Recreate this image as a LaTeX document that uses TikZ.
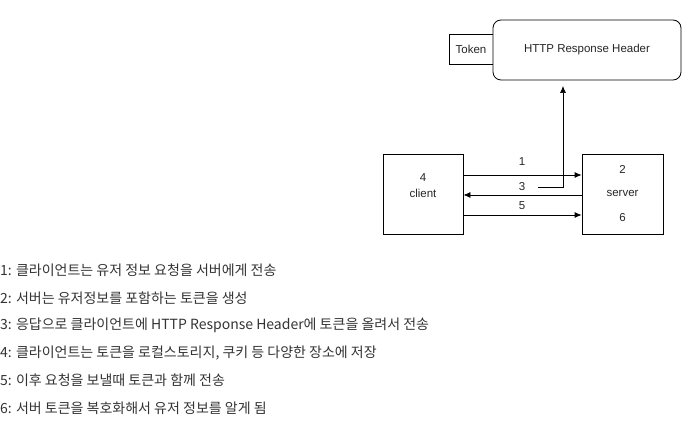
\documentclass[tikz,border=0pt]{standalone}
\usepackage{fontspec}
\setmainfont{Liberation Sans}
\newfontfamily\krfont{Noto Sans CJK KR}
\usetikzlibrary{arrows.meta}
\begin{document}
\begin{tikzpicture}[x=1pt,y=-1pt,
  box/.style={draw,line width=0.8pt,inner sep=0pt},
  lbl/.style={font=\fontsize{11.5}{13}\selectfont,inner sep=0pt,text=black!85},
  desc/.style={anchor=west,inner sep=0pt,font=\krfont\fontsize{14}{16}\selectfont,text=black!80},
  arr/.style={-{Latex[length=7pt,width=6pt]},line width=0.8pt}]
\useasboundingbox (0,0) rectangle (691,422);
\node[box,minimum width=44pt,minimum height=30pt] (token) at (471,49) {};
\node[box,fill=white,rounded corners=8pt,minimum width=188pt,minimum height=60pt] (http) at (587,50) {};
\node[lbl] at (token.center) {Token};
\node[lbl] at (http.center) {HTTP Response Header};
\node[box,minimum width=80pt,minimum height=80pt] (client) at (423,194) {};
\node[box,minimum width=81pt,minimum height=80pt] (server) at (622.5,194) {};
\node[lbl] (c4) at (423,178) {4};
\node[lbl] (cl) at (423,193) {client};
\node[lbl] (s2) at (622.5,169) {2};
\node[lbl] (sv) at (622.5,193) {server};
\node[lbl] (s6) at (622.5,218) {6};
\coordinate (a1s) at (client.east |- 0,175);
\coordinate (a1e) at (server.west |- 0,175);
\coordinate (a3s) at (server.west |- 0,195);
\coordinate (a3e) at (client.east |- 0,195);
\coordinate (a5s) at (client.east |- 0,215);
\coordinate (a5e) at (server.west |- 0,215);
\draw[arr] (a1s) -- (a1e);
\draw[arr] (a3s) -- (a3e);
\draw[arr] (a5s) -- (a5e);
\node[lbl] (l1) at (522,162) {1};
\node[lbl] (l3) at (522,187) {3};
\node[lbl] (l5) at (522,206) {5};
\coordinate (v0) at (538,187);
\coordinate (v1) at (563,187);
\coordinate (vt) at (563,86);
\draw[arr,line width=0.7pt] (v0) -- (v1) -- (vt);
\node[desc] (d1) at (0,270) {1: 클라이언트는 유저 정보 요청을 서버에게 전송};
\node[desc] (d2) at (0,298) {2: 서버는 유저정보를 포함하는 토큰을 생성};
\node[desc] (d3) at (0,325) {3: 응답으로 클라이언트에 HTTP Response Header에 토큰을 올려서 전송};
\node[desc] (d4) at (0,353) {4: 클라이언트는 토큰을 로컬스토리지, 쿠키 등 다양한 장소에 저장};
\node[desc] (d5) at (0,380) {5: 이후 요청을 보낼때 토큰과 함께 전송};
\node[desc] (d6) at (0,408) {6: 서버 토큰을 복호화해서 유저 정보를 알게 됨};
\end{tikzpicture}
\end{document}
